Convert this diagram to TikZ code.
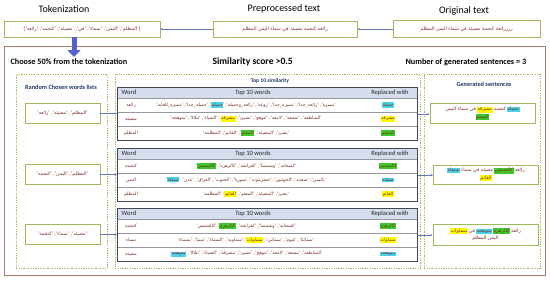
\documentclass[tikz,border=0pt]{standalone}
\usepackage{fontspec}
\setmainfont{Carlito}
\newfontfamily\arabicfont[Script=Arabic]{DejaVu Sans}
\TeXXeTstate=1
\usepackage{xcolor}
\usepackage{tikz}
\usetikzlibrary{shapes,arrows,arrows.meta,positioning,fit,backgrounds,calc}

\definecolor{frameRed}{RGB}{178,118,104}
\definecolor{boxGreen}{RGB}{155,187,89}
\definecolor{arText}{RGB}{125,45,35}
\definecolor{navyText}{RGB}{31,56,100}
\definecolor{headBlue}{RGB}{214,222,238}
\definecolor{tableGray}{RGB}{68,70,84}
\definecolor{rowGray}{RGB}{150,150,160}
\definecolor{arrowBlue}{RGB}{84,96,206}
\definecolor{lineBlue}{RGB}{100,120,190}
\definecolor{hlCyan}{RGB}{72,212,232}
\definecolor{hlYellow}{RGB}{255,250,0}
\definecolor{hlGreen}{RGB}{60,200,40}

\newcommand{\artext}[1]{{\arabicfont\beginR #1\endR}}
\newcommand{\arltr}[1]{{\arabicfont #1}}
\setlength{\fboxsep}{0.6pt}
% highlights stay outside \beginR..\endR, pieces are set in visual order
\newcommand{\hlc}[1]{\colorbox{hlCyan}{\arabicfont #1}}
\newcommand{\hly}[1]{\colorbox{hlYellow}{\arabicfont #1}}
\newcommand{\hlg}[1]{\colorbox{hlGreen}{\arabicfont #1}}

\tikzset{
  title/.style={font=\fontsize{10}{12}\selectfont},
  boldhead/.style={font=\fontsize{8.2}{10}\selectfont\bfseries, anchor=west},
  subtitle/.style={font=\fontsize{6.3}{8}\selectfont\bfseries, text=navyText},
  hdr/.style={font=\fontsize{6.5}{8}\selectfont, text=black!85, inner sep=0.5pt},
  artxt/.style={text=arText, font=\fontsize{4.6}{6}\selectfont, inner sep=0.5pt},
  greenbox/.style={draw=boxGreen, line width=0.7pt, fill=white, text=arText,
    font=\fontsize{4.8}{7.5}\selectfont, inner sep=1pt, align=center},
  panel/.style={draw=boxGreen, dash pattern=on 1.2pt off 1.2pt, line width=0.5pt,
    anchor=north west, inner sep=0},
  headrow/.style={fill=headBlue, draw=tableGray, line width=0.5pt, anchor=north west,
    minimum width=300pt, minimum height=11pt, inner sep=0},
  datarow/.style={fill=white, draw=rowGray, line width=0.5pt, anchor=north west,
    minimum width=300pt, minimum height=14pt, inner sep=0},
  tabframe/.style={draw=tableGray, line width=1.1pt, anchor=north west,
    minimum width=300pt, minimum height=53pt, inner sep=0},
  thinarrow/.style={draw=lineBlue, line width=0.4pt, -{Stealth[length=2.4pt,width=2.2pt]}},
  bigarrow/.style={draw=arrowBlue, line width=5pt, -{Triangle[length=7pt,width=13pt]}}
}

% header row and data row of a similarity table
\newcommand{\simhead}[2]{%
  \node[headrow] (#1) at (117,#2) {};
  \node[hdr, anchor=west] (#1w) at (121,#2+5.5) {Word};
  \node[hdr] (#1l) at (253,#2+5.5) {Top 10 words};
  \node[hdr] (#1r) at (390,#2+5.5) {Replaced with};
}
\newcommand{\simrow}[5]{%
  \node[datarow] (#1) at (117,#2) {};
  \node[artxt] (#1w) at (131,#2+7) {\arltr{#3}};
  \node[artxt] (#1l) at (246,#2+7) {#4};
  \node[artxt] (#1r) at (388,#2+7) {#5};
}

\begin{document}
\begin{tikzpicture}[x=1pt, y=-1pt]
\useasboundingbox (0,0) rectangle (550,281);

% top row
\node[title] (toktitle) at (64,9) {Tokenization};
\node[title] (pretitle) at (284,9) {Preprocessed text};
\node[title] (origtitle) at (464,11) {Original text};

\node[greenbox, minimum width=156pt, minimum height=16pt] (tok) at (82,29)
  {\artext{['المظلم', 'اليمن', 'سماء', 'في', 'مضيئه', 'كنجمه', 'رائعه']}};
\node[greenbox, minimum width=144pt, minimum height=16pt] (pre) at (285,29)
  {\artext{رائعه كنجمه مضيئه في سماء اليمن المظلم}};
\node[greenbox, minimum width=147pt, minimum height=17pt] (orig) at (466.5,29)
  {\artext{ررررائعة كنجمة مضيئة في سماء اليمن المظلم}};

\draw[thinarrow] (orig) -- (pre);
\draw[thinarrow] (pre) -- (tok);

% outer frame
\node[draw=frameRed, line width=1.1pt, minimum width=541pt, minimum height=229pt,
  anchor=north west, inner sep=0] (frame) at (4,46) {};
\coordinate (choose) at (74,57);
\draw[bigarrow] (tok.south -| choose) -- (choose);

\node[boldhead] (choose50) at (7,62) {Choose 50\% from the tokenization};
\node[boldhead, font=\fontsize{9.6}{11}\selectfont\bfseries] (simscore) at (209,62) {Similarity score >0.5};
\node[boldhead] (numgen) at (402,62) {Number of generated sentences = 3};

% panels
\node[panel, minimum width=91pt, minimum height=194pt] (leftpanel) at (16,74) {};
\node[panel, minimum width=305pt, minimum height=194pt] (midpanel) at (115,74) {};
\node[panel, minimum width=116pt, minimum height=194pt] (rightpanel) at (424,74) {};

\node[subtitle] (randtitle) at (61,87) {Random Chosen words lists};
\node[subtitle, font=\fontsize{5.6}{7}\selectfont\bfseries] (toptitle) at (270,81) {Top 10 similarity};
\node[subtitle] (gentitle) at (484,84) {Generated sentences};

% chosen words
\node[greenbox, minimum width=75pt, minimum height=20pt] (pick1) at (62.5,113.5)
  {\artext{'المظلم', 'مضيئه', 'رائعه'}};
\node[greenbox, minimum width=75pt, minimum height=20pt] (pick2) at (62.5,174.5)
  {\artext{'المظلم', 'اليمن', 'كنجمه'}};
\node[greenbox, minimum width=75pt, minimum height=20pt] (pick3) at (62.5,234.5)
  {\artext{'مضيئه', 'سماء', 'كنجمه'}};

% table 1
\simhead{tabAh}{87}
\simrow{tabAa}{98}{رائعه}{\artext{'جميله\_جدا', 'مميزه\_للغايه'} ,'\hlc{جميله}' ,\artext{'مميزه', 'رائعه\_جدا', 'مميزه\_جدا', 'روعه', 'رائعه\_وجميله'}}{\hlc{جميله}}
\simrow{tabAb}{112}{مضيئه}{\artext{'الضياء', 'تتلالا', 'متوهجه'} ,'\hly{مشرقه}' ,\artext{'الساطعه', 'مشعه', 'لامعه', 'تتوهج', 'تضيئ'}}{\hly{مشرقه}}
\simrow{tabAc}{126}{المظلم}{\artext{'القاتم', 'المظلمه'} ,'\hlg{المعتم}' ,\artext{'يضئ', 'المضيئه'}}{\hlg{المعتم}}
\node[tabframe] (tab1) at (117,87) {};

% table 2
\simhead{tabBh}{148}
\simrow{tabBa}{159}{كنجمه}{'\hlg{كالشمس}' ,\artext{'كسحابه', 'وشمسا', 'كفراشه', 'كالزهره'}}{\hlg{كالشمس}}
\simrow{tabBb}{173}{اليمن}{'\hlc{صنعاء}' ,\artext{'باليمن', 'صعده', 'الحوثيين', 'حضرموت', 'سوريا', 'الجنوب', 'العراق', 'عدن'}}{\hlc{صنعاء}}
\simrow{tabBc}{187}{المظلم}{\artext{'المظلمه'} ,'\hly{القاتم}' ,\artext{'يضئ', 'المضيئه', 'المعتم'}}{\hly{القاتم}}
\node[tabframe] (tab2) at (117,148) {};

% table 3
\simhead{tabCh}{208}
\simrow{tabCa}{219}{كنجمه}{\artext{'كالشمس'} ,'\hlg{كالزهره}' ,\artext{'كسحابه', 'وشمسا', 'كفراشه'}}{\hlg{كالزهره}}
\simrow{tabCb}{233}{سماء}{\artext{'سماويه', 'السماء', 'سما', 'بسماء'} ,'\hly{سماوات}' ,\artext{'سمائنا', 'غيوم', 'سمائي'}}{\hly{سماوات}}
\simrow{tabCc}{247}{مضيئه}{'\hlc{متوهجه}' ,\artext{'الساطعه', 'مشعه', 'لامعه', 'تتوهج', 'تضيئ', 'مشرقه', 'الضياء', 'تتلالا'}}{\hlc{متوهجه}}
\node[tabframe] (tab3) at (117,208) {};

% generated sentences
\node[greenbox, minimum width=105pt, minimum height=20pt] (gen1) at (482.5,113.5)
  {\artext{في سماء اليمن} \hly{مشرقه} \artext{كنجمه} \hlc{جميله}\\\hlg{المعتم}};
\node[greenbox, minimum width=105pt, minimum height=19pt] (gen2) at (486,174.5)
  {\hlc{صنعاء} \artext{مضيئه في سماء} \hlg{كالشمس} \artext{رائعه}\\\hly{القاتم}};
\node[greenbox, minimum width=105pt, minimum height=21pt] (gen3) at (485.5,234.5)
  {\hly{سماوات} \artext{في} \hlc{متوهجه} \hlg{كالزهره} \artext{رائعه}\\\artext{اليمن المظلم}};

\draw[thinarrow] (pick1.east) -- (pick1.east -| tab1.west);
\draw[thinarrow] (pick2.east) -- (pick2.east -| tab2.west);
\draw[thinarrow] (pick3.east) -- (pick3.east -| tab3.west);
\draw[thinarrow] (tab1.east) -- (tab1.east -| gen1.west);
\draw[thinarrow] (tab2.east) -- (tab2.east -| gen2.west);
\draw[thinarrow] (tab3.east) -- (tab3.east -| gen3.west);
\end{tikzpicture}
\end{document}
